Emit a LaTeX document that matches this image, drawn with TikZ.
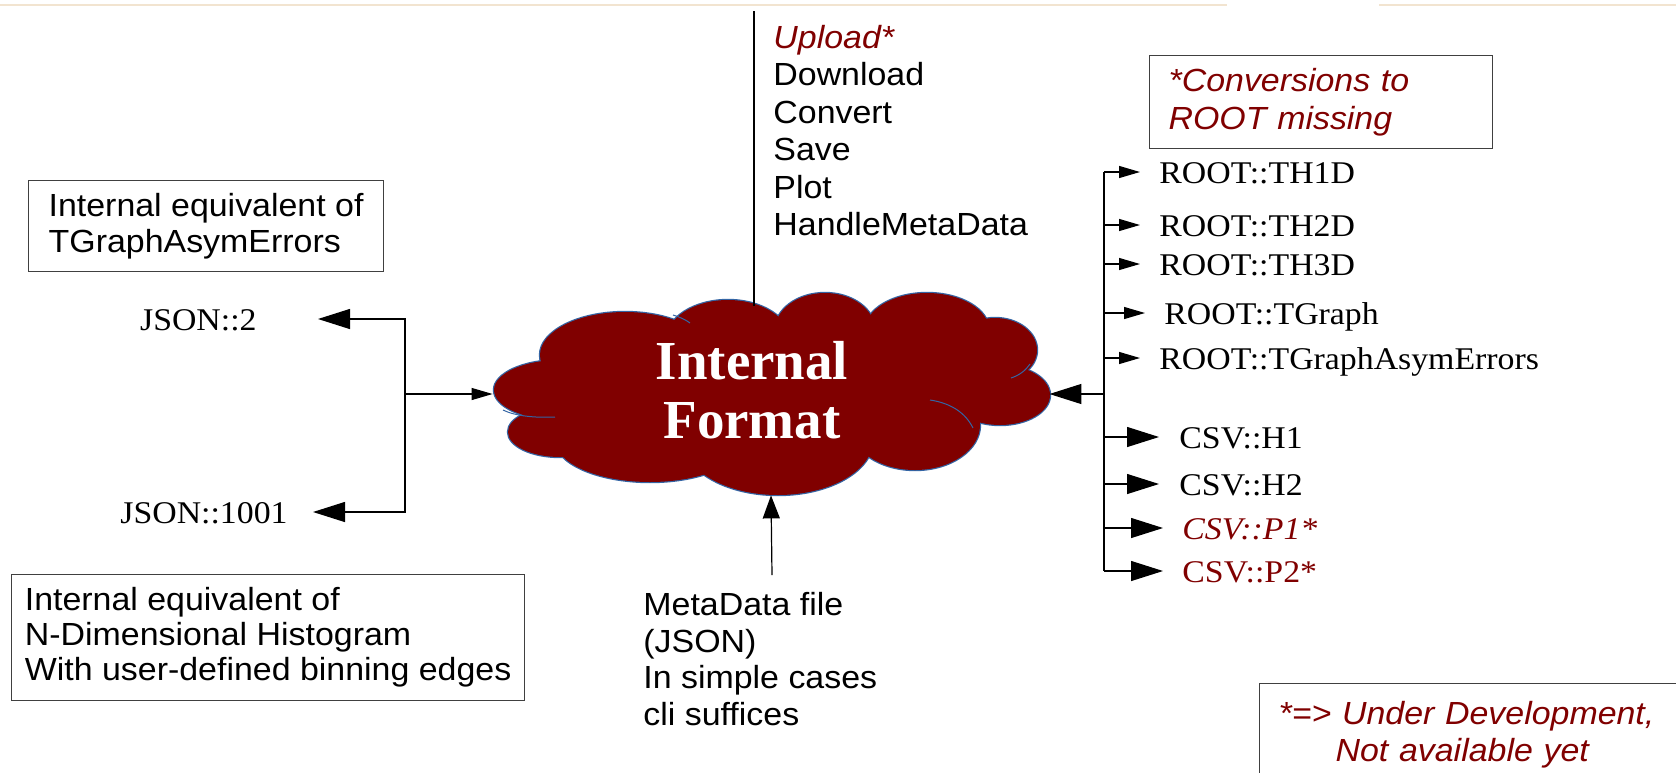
\documentclass[tikz,border=0pt]{standalone}
\usepackage{fontspec}
\setmainfont{Liberation Serif}
\setsansfont{Liberation Sans}
\newfontfamily\notesf{Liberation Sans}[FakeStretch=1.06]
\newfontfamily\labelrm{Liberation Serif}[FakeStretch=1.07]
\usetikzlibrary{arrows.meta, shapes.geometric, calc}
\definecolor{fmtred}{RGB}{128,0,0}
\definecolor{cloudline}{RGB}{52,101,164}
\definecolor{rulebeige}{RGB}{242,228,208}
\newcommand{\cloudlobes}{560/390/66/30, 560/432/52/25, 650/440/95/42, 778/440/95/55,
  915/425/65/45, 1000/395/50/30, 995/350/42/32, 927/330/62/37, 825/330/50/37,
  728/340/62/40, 625/355/85/43}

\begin{document}
\begin{tikzpicture}[
                    x=0.5pt, y=-0.5pt,
                    note/.style={draw=black!75, line width=0.6pt, align=left, inner sep=0pt, font=\notesf\fontsize{16}{18.2}\selectfont},
                    plain/.style={align=left, inner sep=0pt, font=\notesf\fontsize{16}{18.7}\selectfont},
                    item/.style={inner ysep=0pt, text height=11pt, text depth=0pt, font=\labelrm\fontsize{15.8}{18}\selectfont},
                    line/.style={draw, line width=0.6pt},
                    sarrow/.style={line, -{Triangle[length=10.5pt, width=6pt]}},
                    barrow/.style={line, -{Triangle[length=16pt, width=10pt]}},
                    uarrow/.style={line, -{Triangle[length=11.5pt, width=8.5pt]}}
                ]
                    \useasboundingbox (0,0) rectangle (1676,772);
                    \clip (0,0) rectangle (1676,772);
                    \draw [rulebeige, line width=1pt] (0,5) -- (1227,5) (1379,5) -- (1676,5);

                    % Cloud: outlines first, fill over them
                    \foreach \cx/\cy/\rx/\ry in \cloudlobes
                        \draw [cloudline, line width=1.2pt] (\cx,\cy) ellipse [x radius=\rx, y radius=\ry];
                    \foreach \cx/\cy/\rx/\ry in \cloudlobes
                        \fill [fmtred] (\cx,\cy) ellipse [x radius=\rx, y radius=\ry];
                    \fill [fmtred] (775,390) ellipse [x radius=210, y radius=65];
                    \draw [cloudline, line width=0.5pt] (503,410) .. controls (515,416) and (535,418) .. (555,417);
                    \draw [cloudline, line width=0.5pt] (930,400) .. controls (950,403) and (965,412) .. (973,428);
                    \draw [cloudline, line width=0.5pt] (1011,378) .. controls (1020,375) and (1026,370) .. (1030,364);
                    \draw [cloudline, line width=0.5pt] (673,315) .. controls (680,317) and (686,320) .. (690,323);

                    \node [ellipse, minimum width=278pt, minimum height=101pt, inner sep=0pt] (fmt) at (771,394) {};
                    \node [font=\bfseries\fontsize{27.5}{29.5}\selectfont, text=white, align=center, inner sep=0pt] (fmttitle) at (752,390) {Internal\\Format};

                    \node [plain, anchor=north west] (ops) at (773,25) {\textcolor{fmtred}{\itshape Upload*}\\Download\\Convert\\Save\\Plot\\HandleMetaData};
                    \node [plain, anchor=north west, font=\notesf\fontsize{16}{18.3}\selectfont] (meta) at (643,592) {MetaData file\\(JSON)\\In simple cases\\cli suffices};
                    \coordinate (opsend) at (754,11);
                    \coordinate (metaend) at (772,575);

                    \node [note, anchor=north west, minimum width=177.5pt, minimum height=45.5pt] (tgaenote) at (28,180) {Internal equivalent of\\TGraphAsymErrors};
                    \node [note, anchor=north west, minimum width=256.5pt, minimum height=63pt, font=\notesf\fontsize{16}{17.5}\selectfont] (ndnote) at (11,574) {Internal equivalent of\\N-Dimensional Histogram\\With user-defined binning edges};
                    \node [note, anchor=north west, text=fmtred, font=\notesf\itshape\fontsize{16}{19}\selectfont, text width=152.5pt, inner xsep=9.5pt, minimum height=46.5pt] (convnote) at (1149,55) {*Conversions to\\ROOT missing};
                    \node [note, anchor=north west, text=fmtred, font=\notesf\itshape\fontsize{16}{18.5}\selectfont, text width=211pt, inner xsep=9.5pt, inner ysep=9pt] (devnote) at (1259,683) {*=> Under Development,\\\hspace*{28.5pt}Not available yet};

                    \node [item, anchor=east, inner xsep=30.5pt] (json2) at (318,319) {JSON::2};
                    \node [item, anchor=east, inner xsep=12.5pt] (json1001) at (313,512) {JSON::1001};

                    \node [item, anchor=west, inner xsep=9.5pt] (th1d) at (1140,172) {ROOT::TH1D};
                    \node [item, anchor=west, inner xsep=9.5pt] (th2d) at (1140,225) {ROOT::TH2D};
                    \node [item, anchor=west, inner xsep=9.5pt] (th3d) at (1140,264) {ROOT::TH3D};
                    \node [item, anchor=west, inner xsep=9.5pt] (tgraph) at (1145,313) {ROOT::TGraph};
                    \node [item, anchor=west, inner xsep=9.5pt] (tgae) at (1140,358) {ROOT::TGraphAsymErrors};
                    \node [item, anchor=west, inner xsep=10pt] (h1) at (1159,437) {CSV::H1};
                    \node [item, anchor=west, inner xsep=10pt] (h2) at (1159,484) {CSV::H2};
                    \node [item, anchor=west, inner xsep=9.5pt, text=fmtred, font=\labelrm\itshape\fontsize{15.8}{18}\selectfont] (p1) at (1163,528) {CSV::P1*};
                    \node [item, anchor=west, inner xsep=9.5pt, text=fmtred] (p2) at (1163,571) {CSV::P2*};

                    % Edges into the format
                    \path [line] (opsend) -- ($(opsend |- fmt.north)+(0,13)$);
                    \path [uarrow] (metaend) -- (fmt.south);
                    \coordinate (ljn) at (405,394);
                    \path [sarrow] (ljn) -- (fmt.west);
                    \path [barrow] (ljn) |- (json2);
                    \path [barrow] (ljn) |- (json1001);

                    % Edges out to ROOT and CSV
                    \coordinate (rjn) at (1104,394);
                    \path [barrow] (rjn) -- (fmt.east);
                    \path [line] (th1d -| rjn) -- (p2 -| rjn);
                    \path [sarrow] (th1d -| rjn) -- (th1d);
                    \path [sarrow] (th2d -| rjn) -- (th2d);
                    \path [sarrow] (th3d -| rjn) -- (th3d);
                    \path [sarrow] (tgraph -| rjn) -- (tgraph);
                    \path [sarrow] (tgae -| rjn) -- (tgae);
                    \path [barrow] (h1 -| rjn) -- (h1);
                    \path [barrow] (h2 -| rjn) -- (h2);
                    \path [barrow] (p1 -| rjn) -- (p1);
                    \path [barrow] (p2 -| rjn) -- (p2);
                \end{tikzpicture}
\end{document}
